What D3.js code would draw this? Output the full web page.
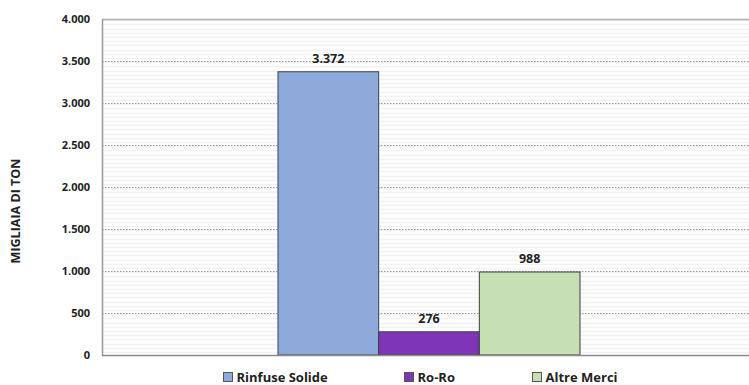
<!DOCTYPE html>
<html>
<head>
<meta charset="utf-8">
<script src="https://cdn.jsdelivr.net/npm/d3@7"></script>
<style>
  html, body { margin: 0; padding: 0; background: #fff; }
  svg { display: block; }
  text { font-family: "Open Sans", "Lato", sans-serif; font-weight: bold; fill: #222; }
</style>
</head>
<body>
<svg id="chart" width="749" height="385"></svg>
<script>
// Traffico merci per tipologia (migliaia di tonnellate)
const series = ["Rinfuse Solide", "Ro-Ro", "Altre Merci"];
const values = [3372, 276, 988];
const labels = ["3.372", "276", "988"];
const colors = ["#8eaadb", "#7e35b6", "#c6e0b4"];
const yTicks = [0, 500, 1000, 1500, 2000, 2500, 3000, 3500, 4000];
const yTickLabels = ["0", "500", "1.000", "1.500", "2.000", "2.500", "3.000", "3.500", "4.000"];

const svg = d3.select("#chart");
const plot = { left: 102, right: 749, top: 19, bottom: 355 };

const y = d3.scaleLinear().domain([0, 4000]).range([plot.bottom, plot.top]);
const x = d3.scaleBand().domain(series).range([278, 580]).padding(0);

// faint striped background of the plot area
const stripes = d3.range(0, 4000, 50);
svg.append("g").selectAll("line").data(stripes).enter().append("line")
  .attr("x1", plot.left).attr("x2", plot.right)
  .attr("y1", d => Math.round(y(d)) - 2.5).attr("y2", d => Math.round(y(d)) - 2.5)
  .attr("stroke", "#f1f1f1").attr("stroke-width", 1.5);

// dotted major gridlines
svg.append("g").selectAll("line").data(yTicks.filter(d => d > 0 && d < 4000)).enter().append("line")
  .attr("x1", plot.left).attr("x2", plot.right)
  .attr("y1", d => Math.round(y(d)) + 0.5).attr("y2", d => Math.round(y(d)) + 0.5)
  .attr("stroke", "#999").attr("stroke-dasharray", "1.5,1.5");

// top frame of the plot area
svg.append("line").attr("x1", plot.left).attr("x2", plot.right)
  .attr("y1", plot.top + 0.5).attr("y2", plot.top + 0.5).attr("stroke", "#b0b0b0").attr("stroke-width", 1.5);

// y axis
const yAxis = d3.axisLeft(y).tickValues(yTicks)
  .tickFormat((d, i) => yTickLabels[i]).tickSize(0).tickPadding(12);
const gy = svg.append("g").attr("transform", `translate(${plot.left},0)`).call(yAxis);
gy.select(".domain").attr("stroke", "#999").attr("stroke-width", 1.5);
gy.selectAll("text").attr("font-size", "11px").attr("fill", "#222")
  .style("font-family", "'Open Sans', sans-serif").style("font-weight", "bold");

// bars
svg.append("g").selectAll("rect").data(values).enter().append("rect")
  .attr("x", (d, i) => x(series[i]))
  .attr("y", d => y(d))
  .attr("width", x.bandwidth())
  .attr("height", d => y(0) - y(d))
  .attr("fill", (d, i) => colors[i])
  .attr("stroke", "#3a3f4a").attr("stroke-width", 1);

// x axis baseline
svg.append("line").attr("x1", plot.left).attr("x2", plot.right)
  .attr("y1", plot.bottom + 0.5).attr("y2", plot.bottom + 0.5)
  .attr("stroke", "#8a8a8a").attr("stroke-width", 1.5);

// value labels
svg.append("g").selectAll("text").data(values).enter().append("text")
  .attr("x", (d, i) => x(series[i]) + x.bandwidth() / 2)
  .attr("y", d => y(d) - 9)
  .attr("text-anchor", "middle").attr("font-size", "12.5px")
  .text((d, i) => labels[i]);

// y axis title
svg.append("text")
  .attr("transform", `translate(20,211) rotate(-90)`)
  .attr("text-anchor", "middle").attr("font-size", "12.5px")
  .text("MIGLIAIA DI TON");

// legend
const legendX = [223, 404, 532];
const lg = svg.append("g").selectAll("g").data(series).enter().append("g")
  .attr("transform", (d, i) => `translate(${legendX[i]},372)`);
lg.append("rect").attr("x", 0.5).attr("y", 0.5).attr("width", 9).attr("height", 9)
  .attr("fill", (d, i) => colors[i]).attr("stroke", "#555").attr("stroke-width", 1);
lg.append("text").attr("x", 13.5).attr("y", 9.5).attr("font-size", "13px").text(d => d);
</script>
</body>
</html>
